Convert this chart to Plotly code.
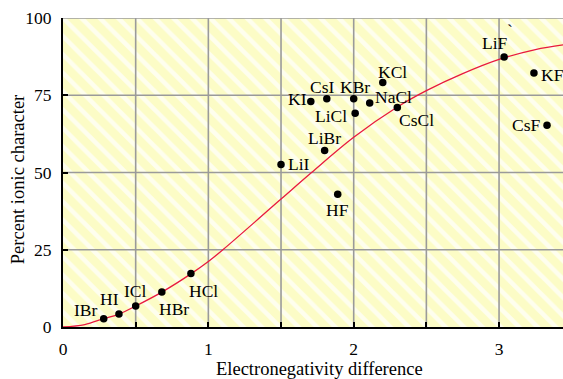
import plotly.graph_objects as go

# ---- data ----
compounds = ["IBr", "HI", "ICl", "HBr", "HCl", "LiI", "LiBr", "HF", "KI", "CsI",
             "KBr", "LiCl", "NaCl", "KCl", "CsCl", "LiF", "KF", "CsF"]
en_diff = [0.28, 0.385, 0.50, 0.68, 0.88, 1.50, 1.80, 1.89, 1.705, 1.815,
           2.00, 2.01, 2.11, 2.20, 2.30, 3.035, 3.24, 3.33]
ionic_pct = [2.7, 4.2, 6.8, 11.3, 17.3, 52.6, 57.1, 43.0, 73.0, 73.9,
             73.9, 69.2, 72.5, 79.1, 71.0, 87.4, 82.2, 65.3]

curve_x = [0, 0.15, 0.28, 0.385, 0.5, 0.68, 0.88, 1.0, 1.1, 1.5, 1.71, 2.0,
           2.3, 2.5, 2.75, 3.0, 3.25, 3.44]
curve_y = [0, 0.8, 2.7, 4.2, 6.8, 11.3, 17.2, 21.2, 25, 41.4, 50, 61.4,
           71.2, 76.5, 82, 86.6, 89.8, 91.3]

x_ticks = [0, 0.5, 1, 1.5, 2, 2.5, 3, 3.5]
x_tick_labels = ["0", "", "1", "", "2", "", "3", ""]
y_ticks = [0, 25, 50, 75, 100]
y_tick_labels = ["0", "25", "50", "75", "100"]

# ---- styling / layout helpers (not data) ----
X_MAX = 3.44
Y_MAX = 100
FONT = "Liberation Serif"
LABEL_SIZE = 17.5
TITLE_SIZE = 18.5
# label offsets in pixels: (dx, dy_down, xanchor)
label_offsets = {
    "IBr": (-18, -9, "center"), "HI": (-9, -15, "center"), "ICl": (0, -15, "center"),
    "HBr": (12, 17, "center"), "HCl": (13, 17, "center"), "LiI": (18, 0, "center"),
    "LiBr": (0, -13, "center"), "HF": (0, 16, "center"), "KI": (-13, -2, "center"),
    "CsI": (-5, -12, "center"), "KBr": (1, -12, "center"), "LiCl": (-24, 3, "center"),
    "NaCl": (24, -6, "center"), "KCl": (10, -11, "center"), "CsCl": (19, 12, "center"),
    "LiF": (-9, -14, "center"), "KF": (5, 2, "left"), "CsF": (-21, 0, "center"),
}

fig = go.Figure()

# striped background
fig.add_trace(go.Scatter(
    x=[0, X_MAX, X_MAX, 0, 0], y=[0, 0, Y_MAX, Y_MAX, 0],
    mode="lines", line=dict(width=0), fill="toself",
    fillcolor="rgba(0,0,0,0)",
    fillpattern=dict(shape="\\", size=13, solidity=0.35, fgcolor="white",
                     fgopacity=0.7, bgcolor="rgba(0,0,0,0)"),
    hoverinfo="skip", showlegend=False))

# gridlines
gx, gy = [], []
for xv in x_ticks:
    if 0 < xv <= X_MAX:
        gx += [xv, xv, None]
        gy += [0, Y_MAX, None]
for yv in y_ticks:
    if yv > 0:
        gx += [0, X_MAX, None]
        gy += [yv, yv, None]
fig.add_trace(go.Scatter(x=gx, y=gy, mode="lines",
                         line=dict(color="#9a9a9a", width=1.6),
                         hoverinfo="skip", showlegend=False))

# curve
fig.add_trace(go.Scatter(x=curve_x, y=curve_y, mode="lines",
                         line=dict(color="#e8193e", width=1.3, shape="spline", smoothing=1.0),
                         showlegend=False))

# points
fig.add_trace(go.Scatter(x=en_diff, y=ionic_pct, mode="markers",
                         marker=dict(color="black", size=7.5),
                         showlegend=False))

annotations = []
for name, xv, yv in zip(compounds, en_diff, ionic_pct):
    dx, dy, anchor = label_offsets[name]
    annotations.append(dict(x=xv, y=yv, text=name, showarrow=False,
                            xanchor=anchor, yanchor="middle",
                            xshift=dx, yshift=-dy,
                            font=dict(family=FONT, size=LABEL_SIZE, color="black")))
# small stray mark near LiF in the reference
lif_i = compounds.index("LiF")
annotations.append(dict(x=en_diff[lif_i], y=ionic_pct[lif_i], text="`", showarrow=False,
                        xshift=6, yshift=27, font=dict(family=FONT, size=LABEL_SIZE, color="black")))
# axis titles
annotations.append(dict(x=0.512, y=-0.136, xref="paper", yref="paper",
                        text="Electronegativity difference", showarrow=False,
                        xanchor="center", yanchor="middle",
                        font=dict(family=FONT, size=TITLE_SIZE, color="black")))
annotations.append(dict(x=0, y=0.475, xref="paper", yref="paper", xshift=-45,
                        text="Percent ionic character", showarrow=False, textangle=-90,
                        xanchor="center", yanchor="middle",
                        font=dict(family=FONT, size=TITLE_SIZE, color="black")))

fig.update_layout(
    width=563, height=379,
    margin=dict(l=63, r=0, t=18, b=52),
    paper_bgcolor="white",
    plot_bgcolor="#fcfcc6",
    annotations=annotations,
    showlegend=False,
)
fig.update_xaxes(range=[0, X_MAX], tickvals=x_ticks, ticktext=x_tick_labels,
                 showgrid=False, zeroline=False, showline=True, linecolor="black",
                 linewidth=2, ticks="inside", ticklen=5, tickwidth=1.5, tickcolor="black",
                 ticklabelstandoff=5,
                 tickfont=dict(family=FONT, size=LABEL_SIZE, color="black"))
fig.update_yaxes(range=[0, Y_MAX], tickvals=y_ticks, ticktext=y_tick_labels,
                 showgrid=False, zeroline=False, showline=True, linecolor="black",
                 linewidth=2, ticks="inside", ticklen=5, tickwidth=1.5, tickcolor="black",
                 ticklabelstandoff=6,
                 tickfont=dict(family=FONT, size=LABEL_SIZE, color="black"))

# remove the page's default body margin so the 563x379 figure fills the window exactly
fig.write_html("out.html",
               config={"displayModeBar": False},
               post_script="document.body.style.margin='0';document.body.style.overflow='hidden';")
